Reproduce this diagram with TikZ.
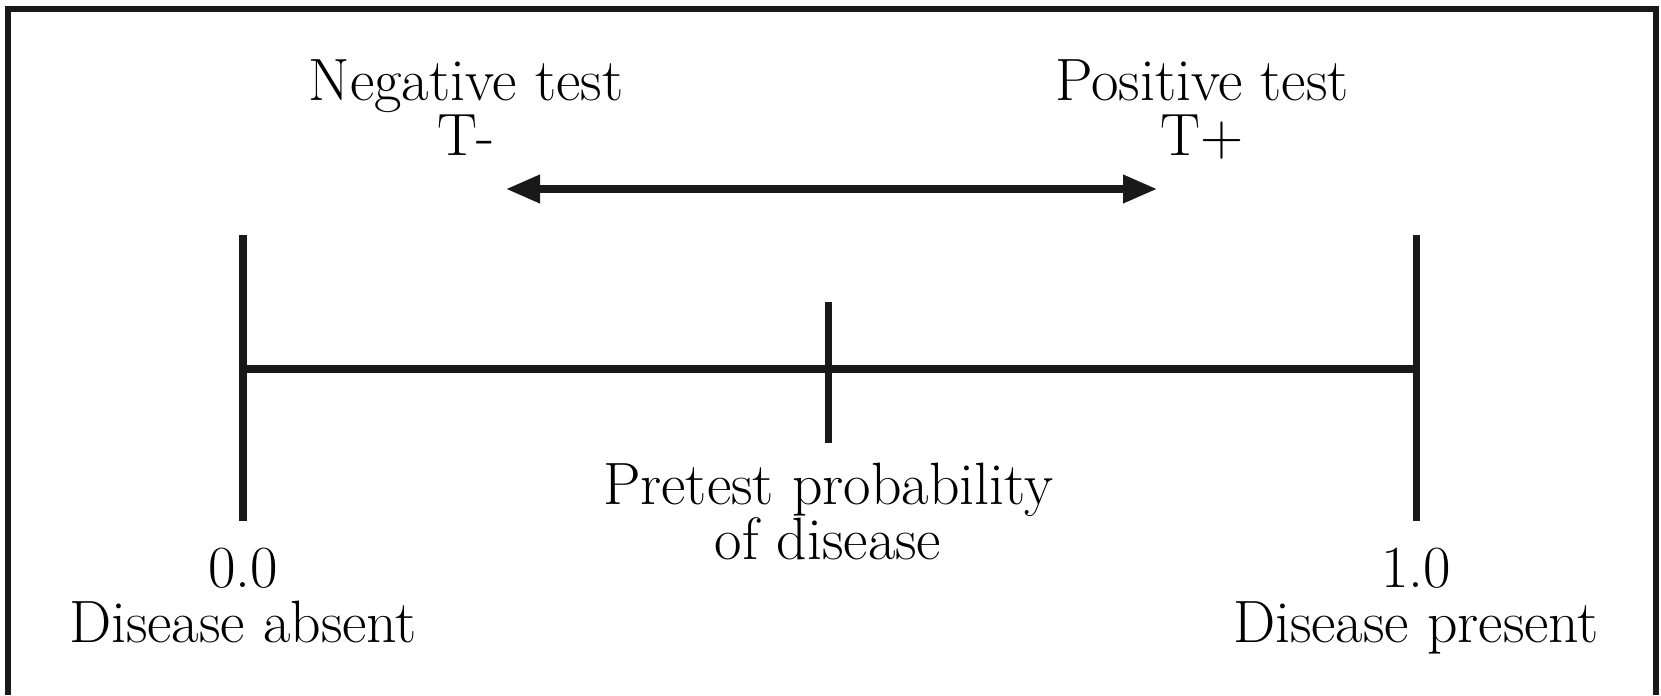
\documentclass[tikz,border=0pt]{standalone}
\usepackage{tikz}
\usetikzlibrary{positioning, arrows.meta}

\begin{document}
\begin{tikzpicture}[
  frame/.style={line width=1.8pt, black!90},
  axis/.style={line width=2pt, black!90},
  testarrow/.style={{Triangle[length=0.34cm, width=0.27cm]}-{Triangle[length=0.34cm, width=0.27cm]}, line width=2pt, black!90},
  lbl/.style={align=center, inner sep=0pt, anchor=base, font=\fontsize{17}{15.4}\selectfont}
]
\useasboundingbox (0,0) rectangle (16.61,6.95);

% Frame (open at the bottom)
\draw[frame] (0.08,0) -- (0.08,6.86) -- (16.56,6.86) -- (16.56,0);

% Scale points
\coordinate (zero) at (2.43,3.26);
\coordinate (one) at (14.16,3.26);
\coordinate (pre) at (8.28,3.26);
\coordinate (zeroTop) at (2.43,4.60);
\coordinate (zeroBot) at (2.43,1.74);
\coordinate (oneTop) at (14.16,4.60);
\coordinate (oneBot) at (14.16,1.74);
\coordinate (preTop) at (8.28,3.93);
\coordinate (preBot) at (8.28,2.52);

% Axis and bars
\draw[axis] (zero) -- (one);
\draw[axis] (zeroTop) -- (zeroBot);
\draw[axis] (oneTop) -- (oneBot);
\draw[axis] (preTop) -- (preBot);

% Labels under the axis (base = last line)
\node[lbl] (Absent) at ([yshift=-1.21cm]zeroBot) {0.0\\Disease absent};
\node[lbl] (Present) at ([yshift=-1.21cm]oneBot) {1.0\\Disease present};
\node[lbl] (Pretest) at ([yshift=-1.16cm]preBot) {Pretest probability\\of disease};

% Test direction
\coordinate (negEnd) at (5.06,5.06);
\coordinate (posEnd) at (11.57,5.06);
\draw[testarrow] (negEnd) -- (posEnd);
\node[lbl] (Negative) at (4.66,5.40) {Negative test\\T-};
\node[lbl] (Positive) at (12.02,5.40) {Positive test\\T+};

\end{tikzpicture}
\end{document}
